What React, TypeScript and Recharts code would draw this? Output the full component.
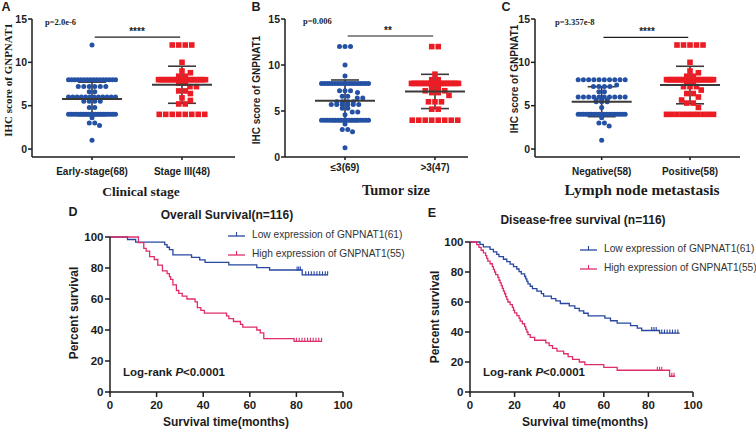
import React from 'react'
import { ScatterChart, ComposedChart, Scatter, Line, XAxis, YAxis, ErrorBar, ReferenceLine } from 'recharts'

// IHC scores per patient (panels A-C)
const clinicalLabels = ['Early-stage(68)', 'Stage III(48)']
const earlyStage = [
  12,
  8, 8, 8, 8, 8, 8, 8, 8, 8, 8, 8, 8, 8, 8, 8, 8,
  7.2, 7.2, 7.2, 7.2, 7.2, 7.2,
  6.6, 6.6,
  6, 6, 6, 6, 6, 6, 6, 6, 6, 6, 6, 6,
  5.5, 5.5, 5.5, 5.5,
  4.8, 4.8,
  4, 4, 4, 4, 4, 4, 4, 4, 4, 4, 4, 4, 4, 4, 4, 4, 4, 4, 4, 4,
  3.6, 3, 3, 2.7, 1,
]
const stageIII = [
  12, 12, 12, 12, 10, 9, 8.8, 8.4, 8.4,
  8, 8, 8, 8, 8, 8, 8, 8, 8, 8, 8, 8, 8, 8, 8, 8, 8, 8, 8, 8,
  7.6, 7.6, 7.2, 7.2, 6.7, 6.7, 6.4, 5.9, 5.6, 5.2, 5.2,
  4, 4, 4, 4, 4, 4, 4, 4,
]

const sizeLabels = ['≤3(69)', '>3(47)']
const sizeSmall = [
  12, 12, 12, 10, 8.8,
  8, 8, 8, 8, 8, 8, 8, 8, 8, 8, 8, 8, 8, 8, 8, 8, 8, 8,
  7.2, 7.2, 7.2, 7, 6.6, 6.6, 6.4, 6.4, 6, 6, 6, 6,
  5.7, 5.7, 5.7, 5.7, 5.7, 5.7, 5.3, 5.3, 4.9, 4.9, 4.6,
  4, 4, 4, 4, 4, 4, 4, 4, 4, 4, 4, 4, 4, 4, 4, 4, 4, 4,
  3.6, 3, 3, 2.75, 1,
]
const sizeLarge = [
  12, 12, 9, 8.4, 8.4,
  8, 8, 8, 8, 8, 8, 8, 8, 8, 8, 8, 8, 8, 8, 8, 8, 8, 8, 8, 8,
  7.6, 7.6, 7.2, 7.2, 7.2, 7.2, 7, 7, 6.7, 6, 6, 6, 5.2, 5.2,
  4, 4, 4, 4, 4, 4, 4, 4,
]

const lymphLabels = ['Negative(58)', 'Positive(58)']
const lymphNeg = [
  8, 8, 8, 8, 8, 8, 8, 8, 8, 8,
  7.4, 7.2, 7.2, 7.2, 7.2, 6.6, 6.6,
  6, 6, 6, 6, 6, 6, 6, 6, 6, 6,
  5.65, 5.65, 5.65, 5.45, 5.45, 5.45, 4.8,
  4, 4, 4, 4, 4, 4, 4, 4, 4, 4, 4, 4, 4, 4, 4, 4, 4, 4, 4,
  3.6, 3, 3, 2.65, 1,
]
const lymphPos = [
  12, 12, 12, 12, 12, 10, 9, 8.8, 8.4, 8.4,
  8, 8, 8, 8, 8, 8, 8, 8, 8, 8, 8, 8, 8, 8, 8, 8, 8, 8, 8, 8, 8, 8, 8, 8, 8,
  7.65, 7.65, 7.2, 7.2, 7.2, 6.8, 6.4, 6.4, 6, 5.65, 5.3, 5.3, 4.8,
  4, 4, 4, 4, 4, 4, 4, 4, 4, 4,
]
const scoreTicks = [0, 5, 10, 15]

// Kaplan-Meier steps [months, % surviving] and censor times (panels D, E)
const kmNames = ['Low expression of GNPNAT1(61)', 'High expression of GNPNAT1(55)']
const osLow = [
  [0, 100], [7.5, 98.4], [11, 96.7], [23.5, 95.1], [24.5, 93.4], [25.5, 91.8], [27, 88.5],
  [35, 86.9], [38.5, 85.2], [40.8, 83.6], [51, 82.0], [63, 80.3], [68.5, 78.7], [82.5, 75.6], [93.5, 75.6],
]
const osHigh = [
  [0, 100], [12.2, 96.4], [14.5, 92.7], [15.5, 90.9], [17, 87.3], [19, 85.5], [20.5, 81.8],
  [22.5, 78.2], [24.5, 76.4], [25.5, 74.5], [26, 72.7], [27, 69.1], [28.5, 65.5], [29.5, 63.6],
  [31, 61.8], [33, 60.0], [36.5, 58.2], [37.5, 54.5], [39, 52.7], [40.5, 50.9], [50, 49.1],
  [51, 47.3], [53, 45.5], [56, 43.6], [57, 41.8], [63, 40.0], [64.5, 38.2], [66, 34.5],
  [79, 32.7], [91, 32.7],
]
const osLowCensor = [80.3, 81, 81.7, 84, 85.2, 86.4, 87.6, 88.8, 90, 91.2, 92.4, 93.4]
const osHighCensor = [80, 81.2, 82.4, 83.6, 84.8, 86, 87.2, 88.4, 89.6, 90.8]

const dfsLow = [
  [0, 100], [4.5, 98.4], [6, 96.7], [9, 95.1], [10.5, 93.4], [12, 91.8], [13, 90.2], [15, 88.5],
  [16.5, 86.9], [18, 85.2], [19.5, 83.6], [21, 82.0], [22, 80.3], [23, 78.7], [24.5, 77.0],
  [25, 75.4], [25.5, 73.8], [26, 72.1], [27, 70.5], [28, 68.9], [30, 67.2], [32, 65.6],
  [33, 63.9], [36.5, 62.3], [38.5, 60.7], [40.5, 59.0], [44.5, 57.4], [47, 55.7], [49, 54.1],
  [51, 52.5], [53, 50.8], [60.5, 49.2], [63, 47.5], [66, 45.9], [72, 44.3], [75, 42.6],
  [77, 41.0], [85, 39.3], [94, 39.3],
]
const dfsHigh = [
  [0, 100], [3, 98.2], [4, 96.4], [5, 94.5], [6, 92.7], [7, 90.9], [7.5, 89.1], [8, 87.3],
  [9, 85.5], [10, 83.6], [10.5, 81.8], [11, 80.0], [11.5, 78.2], [12.5, 76.4], [13, 74.5],
  [13.5, 72.7], [14, 70.9], [14.5, 69.1], [15, 67.3], [15.5, 65.5], [16, 63.6], [16.5, 61.8],
  [17, 60], [18, 58.2], [19, 56.4], [19.5, 54.5], [20, 52.7], [21, 50.9], [22, 49.1],
  [22.5, 47.3], [23.5, 45.5], [24.5, 43.6], [25, 41.8], [25.5, 40], [26, 38.2], [27, 36.4],
  [29, 34.5], [34, 32.7], [35.5, 30.9], [37, 29.1], [39, 27.3], [42, 25.5], [44, 23.6],
  [46, 21.8], [49, 20], [51.5, 18.2], [60, 16.4], [66, 14.5], [89.5, 10.5], [92, 10.5],
]
const dfsLowCensor = [81.5, 82.5, 83.5, 86, 87.2, 88.4, 89.6, 90.8, 92, 93.2]
const dfsHighCensor = [84, 85, 86, 90.5, 91.5]
const survTicks = [0, 20, 40, 60, 80, 100]

const BLUE = '#2451a3'
const RED = '#ec1c24'
const KM_BLUE = '#2747a1'
const KM_RED = '#df2d6b'
const BAR = '#3a3a3a'
const INK = '#1c1c1c'
const SANS = '"Liberation Sans", Arial, sans-serif'
const SERIF = '"Liberation Serif", "Times New Roman", serif'

// spread equal scores sideways like a GraphPad dot plot
function swarm(values: number[], cat: number, ppu: number, gap: number, span: number, size: number) {
  const counts = new Map<number, number>()
  values.forEach((v) => counts.set(v, (counts.get(v) || 0) + 1))
  const rows = [...counts.entries()].sort((a, b) => b[1] - a[1] || b[0] - a[0])
  const placed: { py: number; dx: number }[] = []
  const hits = (py: number, dx: number) =>
    placed.some((p) => {
      const dy = Math.abs(p.py - py)
      return dy < size && Math.abs(p.dx - dx) < Math.sqrt(size * size - dy * dy) - 0.01
    })
  const out: { x: number; y: number; dx: number }[] = []
  for (const [v, k] of rows) {
    const step = k > 1 ? Math.min(gap, span / (k - 1)) : 0
    const base = Array.from({ length: k }, (_, i) => (i - (k - 1) / 2) * step)
    const py = v * ppu
    let shift = 0
    for (let j = 0; j < 13; j++) {
      const s = (j % 2 ? 1 : -1) * Math.ceil(j / 2) * (size / 2)
      const xs = base.map((b) => b + s)
      if (Math.max(...xs.map(Math.abs)) > span / 2 + 2) continue
      if (!xs.some((dx) => hits(py, dx))) {
        shift = s
        break
      }
    }
    base.forEach((b) => {
      placed.push({ py, dx: b + shift })
      out.push({ x: cat, y: v, dx: b + shift })
    })
  }
  return out
}

function meanSd(values: number[]) {
  const m = values.reduce((a, b) => a + b, 0) / values.length
  const sd = Math.sqrt(values.reduce((a, b) => a + (b - m) ** 2, 0) / (values.length - 1))
  return { y: m, sd }
}

function stepAt(curve: number[][], t: number) {
  let s = curve[0][1]
  for (const [ct, cs] of curve) if (ct <= t) s = cs
  return s
}

const dot = (p: any) => <circle cx={p.cx + p.payload.dx} cy={p.cy} r={2.5} fill={BLUE} />
const square = (p: any) => (
  <rect x={p.cx + p.payload.dx - 2.8} y={p.cy - 2.8} width={5.6} height={5.6} fill={RED} />
)
const meanLine = (p: any) => (
  <line x1={p.cx - 30} x2={p.cx + 30} y1={p.cy} y2={p.cy} stroke={BAR} strokeWidth={2} />
)

interface ScoreProps {
  left: number
  width: number
  yAxisW: number
  right: number
  yDomain: [number, number]
  xDomain: [number, number]
  labels: string[]
  groups: number[][]
  sig: { x1: number; x2: number; y: number }
  labelGap: number
}

function ScorePanel(p: ScoreProps) {
  const ppu = 138 / (p.yDomain[1] - p.yDomain[0])
  const g1 = swarm(p.groups[0], 1, ppu, 5.5, 47, 5)
  const g2 = swarm(p.groups[1], 2, ppu, 6.5, 47, 5.6)
  const stats = p.groups.map((g, i) => ({ x: i + 1, ...meanSd(g) }))
  return (
    <div style={{ position: 'absolute', left: p.left, top: 0 }}>
      <ScatterChart width={p.width} height={200} margin={{ top: 19, right: p.right, bottom: 23, left: 0 }}>
        <XAxis
          type="number"
          dataKey="x"
          domain={p.xDomain}
          ticks={[1, 2]}
          interval={0}
          allowDataOverflow
          tickFormatter={(v) => p.labels[v - 1]}
          height={20}
          tickSize={3}
          tickMargin={p.labelGap}
          axisLine={{ stroke: INK, strokeWidth: 1.5 }}
          tickLine={{ stroke: INK, strokeWidth: 1.5 }}
          tick={{ fill: INK, fontSize: 10, fontWeight: 700, fontFamily: SANS }}
        />
        <YAxis
          type="number"
          dataKey="y"
          domain={p.yDomain}
          ticks={scoreTicks}
          allowDataOverflow
          width={p.yAxisW}
          tickSize={4}
          tickMargin={1}
          axisLine={{ stroke: INK, strokeWidth: 1.5 }}
          tickLine={{ stroke: INK, strokeWidth: 1.5 }}
          tick={{ fill: INK, fontSize: 10.5, fontWeight: 700, fontFamily: SANS }}
        />
        <Scatter data={g1} shape={dot} isAnimationActive={false} />
        <Scatter data={g2} shape={square} isAnimationActive={false} />
        <Scatter data={stats} shape={meanLine} isAnimationActive={false}>
          <ErrorBar dataKey="sd" direction="y" width={14} stroke={BAR} strokeWidth={1.6} isAnimationActive={false} />
        </Scatter>
        <ReferenceLine
          segment={[{ x: p.sig.x1, y: p.sig.y }, { x: p.sig.x2, y: p.sig.y }]}
          stroke={INK}
          strokeWidth={1.2}
        />
      </ScatterChart>
    </div>
  )
}

const censorTick = (color: string) => (p: any) => (
  <line x1={p.cx} x2={p.cx} y1={p.cy - 3.5} y2={p.cy + 0.5} stroke={color} strokeWidth={1.1} />
)

interface KmProps {
  left: number
  top: number
  height: number
  right: number
  low: number[][]
  high: number[][]
  lowCensor: number[]
  highCensor: number[]
}

function KmPanel(p: KmProps) {
  const toPts = (c: number[][]) => c.map(([t, s]) => ({ t, s }))
  const cens = (c: number[][], ts: number[]) => ts.map((t) => ({ t, s: stepAt(c, t) }))
  return (
    <div style={{ position: 'absolute', left: p.left, top: p.top }}>
      <ComposedChart width={300} height={p.height} margin={{ top: 12, right: p.right, bottom: 13, left: 0 }}>
        <XAxis
          type="number"
          dataKey="t"
          domain={[0, 100]}
          ticks={survTicks}
          interval={0}
          height={20}
          tickSize={5}
          tickMargin={4}
          axisLine={{ stroke: INK, strokeWidth: 1.5 }}
          tickLine={{ stroke: INK, strokeWidth: 1.5 }}
          tick={{ fill: INK, fontSize: 11.5, fontWeight: 700, fontFamily: SANS }}
        />
        <YAxis
          type="number"
          domain={[0, 100]}
          ticks={survTicks}
          interval={0}
          width={50}
          tickSize={5}
          tickMargin={1.5}
          axisLine={{ stroke: INK, strokeWidth: 1.5 }}
          tickLine={{ stroke: INK, strokeWidth: 1.5 }}
          tick={{ fill: INK, fontSize: 11.5, fontWeight: 700, fontFamily: SANS }}
        />
        <Line data={toPts(p.low)} dataKey="s" type="stepAfter" stroke={KM_BLUE} strokeWidth={1.3} dot={false} isAnimationActive={false} />
        <Line data={toPts(p.high)} dataKey="s" type="stepAfter" stroke={KM_RED} strokeWidth={1.3} dot={false} isAnimationActive={false} />
        <Scatter data={cens(p.low, p.lowCensor)} dataKey="s" shape={censorTick(KM_BLUE)} isAnimationActive={false} />
        <Scatter data={cens(p.high, p.highCensor)} dataKey="s" shape={censorTick(KM_RED)} isAnimationActive={false} />
      </ComposedChart>
    </div>
  )
}

function T({ x, y, children, style, start, rot }: any) {
  const tr = `translate(${start ? '0' : '-50%'}, -50%)${rot ? ' rotate(-90deg)' : ''}`
  return (
    <div style={{ position: 'absolute', left: x, top: y, transform: tr, whiteSpace: 'nowrap', lineHeight: 1, color: INK, ...style }}>
      {children}
    </div>
  )
}

function KmLegend({ x, y }: { x: number; y: number }) {
  return (
    <>
      {kmNames.map((name, i) => (
        <div
          key={name}
          style={{ position: 'absolute', left: x, top: y + i * 19 - 6, display: 'flex', alignItems: 'center', height: 12, whiteSpace: 'nowrap' }}
        >
          <svg width={17} height={10} style={{ flex: 'none' }}>
            <line x1={0} x2={17} y1={7} y2={7} stroke={i ? KM_RED : KM_BLUE} strokeWidth={1.3} />
            <line x1={8.5} x2={8.5} y1={3} y2={7} stroke={i ? KM_RED : KM_BLUE} strokeWidth={1.1} />
          </svg>
          <span style={{ marginLeft: 7, fontSize: 10.2, color: '#333', fontFamily: SANS }}>{name}</span>
        </div>
      ))}
    </>
  )
}

const letter = { fontSize: 12.5, fontWeight: 700, fontFamily: SANS }
const pText = { fontSize: 8.5, fontWeight: 700, fontFamily: SERIF }
const stars = { fontSize: 10, fontWeight: 700, fontFamily: SANS }
const serifTitle = { fontWeight: 700, fontFamily: SERIF }
const kmTitle = { fontSize: 12, fontWeight: 700, fontFamily: SANS }

export default function App() {
  return (
    <div style={{ position: 'absolute', left: 0, top: 0, width: 756, height: 432, background: '#fff', overflow: 'hidden', fontFamily: SANS }}>
      <ScorePanel
        left={0} width={250} yAxisW={32} right={15}
        yDomain={[-0.92, 15]} xDomain={[0.333, 2.589]}
        labels={clinicalLabels} groups={[earlyStage, stageIII]}
        sig={{ x1: 1.03, x2: 1.98, y: 12.92 }} labelGap={7.5}
      />
      <ScorePanel
        left={250} width={250} yAxisW={35} right={32}
        yDomain={[0, 15]} xDomain={[0.333, 2.367]}
        labels={sizeLabels} groups={[sizeSmall, sizeLarge]}
        sig={{ x1: 1.03, x2: 1.98, y: 13.15 }} labelGap={3.5}
      />
      <ScorePanel
        left={500} width={256} yAxisW={35} right={16}
        yDomain={[-0.92, 15]} xDomain={[0.245, 2.566]}
        labels={lymphLabels} groups={[lymphNeg, lymphPos]}
        sig={{ x1: 1.02, x2: 1.98, y: 12.88 }} labelGap={7.5}
      />
      <KmPanel left={60} top={225} height={200} right={17} low={osLow} high={osHigh} lowCensor={osLowCensor} highCensor={osHighCensor} />
      <KmPanel left={420} top={230} height={195} right={27} low={dfsLow} high={dfsHigh} lowCensor={dfsLowCensor} highCensor={dfsHighCensor} />

      <T x={6} y={7} style={letter}>A</T>
      <T x={256} y={7} style={letter}>B</T>
      <T x={506} y={7} style={letter}>C</T>
      <T x={73} y={212} style={letter}>D</T>
      <T x={432} y={213} style={letter}>E</T>

      <T x={45} y={22} start style={pText}>p=2.0e-6</T>
      <T x={303} y={21} start style={pText}>p=0.006</T>
      <T x={555} y={22} start style={pText}>p=3.357e-8</T>
      <T x={137} y={32} style={stars}>****</T>
      <T x={388} y={31} style={stars}>**</T>
      <T x={647} y={32} style={stars}>****</T>

      <T x={7.5} y={80} rot style={{ fontSize: 11, fontWeight: 700, fontFamily: SERIF }}>IHC score of GNPNAT1</T>
      <T x={257} y={90} rot style={{ fontSize: 10, fontWeight: 700, fontFamily: SANS }}>IHC score of GNPNAT1</T>
      <T x={515} y={79} rot style={{ fontSize: 10, fontWeight: 700, fontFamily: SANS }}>IHC score of GNPNAT1</T>
      <T x={141} y={192} style={{ ...serifTitle, fontSize: 13.5 }}>Clinical stage</T>
      <T x={396} y={190} style={{ ...serifTitle, fontSize: 14.5 }}>Tumor size</T>
      <T x={642} y={190} style={{ ...serifTitle, fontSize: 15.5 }}>Lymph node metastasis</T>

      <T x={227} y={215} style={kmTitle}>Overall Survival(n=116)</T>
      <T x={583} y={220} style={kmTitle}>Disease-free survival (n=116)</T>
      <T x={74} y={313} rot style={kmTitle}>Percent survival</T>
      <T x={435} y={317} rot style={kmTitle}>Percent survival</T>
      <T x={226} y={422} style={kmTitle}>Survival time(months)</T>
      <T x={585} y={422} style={kmTitle}>Survival time(months)</T>
      <T x={123} y={373} start style={{ fontSize: 11.5, fontWeight: 700 }}>
        Log-rank <i>P</i>&lt;0.0001
      </T>
      <T x={483} y={373} start style={{ fontSize: 11.5, fontWeight: 700 }}>
        Log-rank <i>P</i>&lt;0.0001
      </T>
      <KmLegend x={228} y={234} />
      <KmLegend x={580} y={248} />
    </div>
  )
}
